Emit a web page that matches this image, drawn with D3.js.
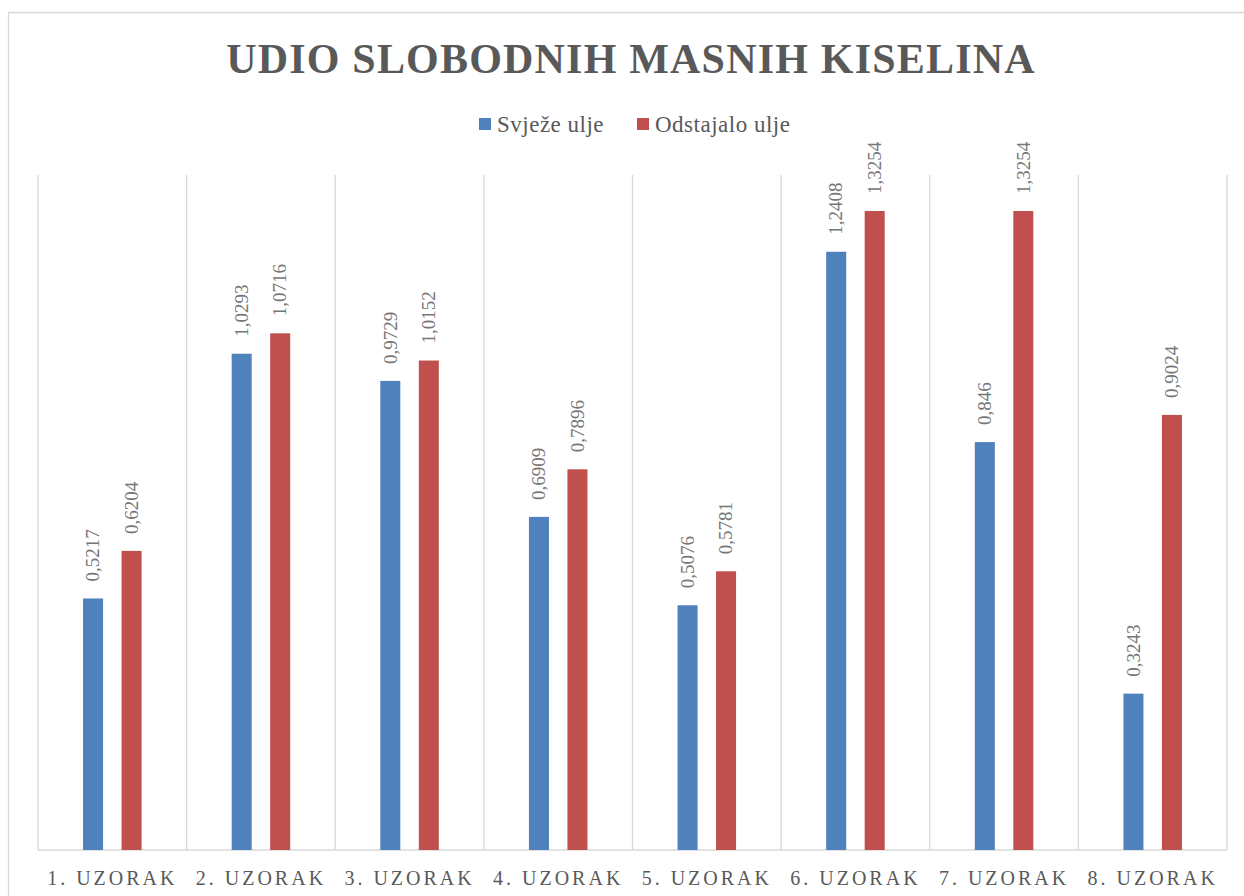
<!DOCTYPE html>
<meta charset="utf-8">
<head>
  <style>
  body{
    margin: 0;
    background: #fff;
  }
  svg text{
    font-family: "Liberation Serif", "DejaVu Serif", serif;
  }
  .grid line{
    stroke: #d9d9d9;
    stroke-width: 1.3px;
  }
  </style>
</head>
<body>
<div id="graph"></div>
<script src="https://d3js.org/d3.v7.min.js"></script>
<script>

var categories = ["1. UZORAK", "2. UZORAK", "3. UZORAK", "4. UZORAK", "5. UZORAK", "6. UZORAK", "7. UZORAK", "8. UZORAK"];
var seriesNames = ["Svježe ulje", "Odstajalo ulje"];
var svjeze = [0.5217, 1.0293, 0.9729, 0.6909, 0.5076, 1.2408, 0.846, 0.3243];
var odstajalo = [0.6204, 1.0716, 1.0152, 0.7896, 0.5781, 1.3254, 1.3254, 0.9024];
var labelsSvjeze = ["0,5217", "1,0293", "0,9729", "0,6909", "0,5076", "1,2408", "0,846", "0,3243"];
var labelsOdstajalo = ["0,6204", "1,0716", "1,0152", "0,7896", "0,5781", "1,3254", "1,3254", "0,9024"];
var colors = ["#4f81bd", "#c0504d"];

var W = 1244, H = 896;
var plot = {left: 38, right: 1227, top: 175, bottom: 850};

var svg = d3.select("#graph").append("svg")
  .attr("width", W)
  .attr("height", H);

// chart frame (only left and top edges visible in the picture)
svg.append("path")
  .attr("d", "M8.5," + H + "V12.5H" + W)
  .attr("fill", "none")
  .attr("stroke", "#d9d9d9")
  .attr("stroke-width", 1.3);

var x0 = d3.scaleBand()
  .domain(categories)
  .range([plot.left, plot.right]);

var x1 = d3.scaleBand()
  .domain(seriesNames)
  .range([0, x0.bandwidth()])
  .paddingInner(0.48)
  .paddingOuter(1.17);

var y = d3.scaleLinear()
  .domain([0, 1.4])
  .range([plot.bottom, plot.top]);

// vertical gridlines between categories
var grid = svg.append("g").attr("class", "grid");
var edges = categories.map(function(c){ return x0(c); }).concat([plot.right]);
grid.selectAll("line.v")
  .data(edges)
  .enter().append("line")
  .attr("class", "v")
  .attr("x1", function(d){ return d; })
  .attr("x2", function(d){ return d; })
  .attr("y1", y(1.4))
  .attr("y2", y(0));

grid.append("line")
  .attr("x1", plot.left)
  .attr("x2", plot.right)
  .attr("y1", y(0))
  .attr("y2", y(0));

var rows = categories.map(function(c, i){
  return [
    {cat: c, s: seriesNames[0], v: svjeze[i], label: labelsSvjeze[i], color: colors[0]},
    {cat: c, s: seriesNames[1], v: odstajalo[i], label: labelsOdstajalo[i], color: colors[1]}
  ];
});

var groups = svg.selectAll("g.cat")
  .data(rows)
  .enter().append("g")
  .attr("class", "cat")
  .attr("transform", function(d){ return "translate(" + x0(d[0].cat) + ",0)"; });

groups.selectAll("rect")
  .data(function(d){ return d; })
  .enter().append("rect")
  .attr("x", function(d){ return x1(d.s); })
  .attr("width", x1.bandwidth())
  .attr("y", function(d){ return y(d.v); })
  .attr("height", function(d){ return y(0) - y(d.v); })
  .attr("fill", function(d){ return d.color; });

groups.selectAll("text.val")
  .data(function(d){ return d; })
  .enter().append("text")
  .attr("class", "val")
  .attr("transform", function(d){
    return "translate(" + (x1(d.s) + x1.bandwidth() / 2) + "," + (y(d.v) - 17) + ") rotate(-90)";
  })
  .attr("dy", "0.33em")
  .attr("font-size", "19px")
  .attr("fill", "#767676")
  .text(function(d){ return d.label; });

// category labels
svg.append("g")
  .selectAll("text")
  .data(categories)
  .enter().append("text")
  .attr("x", function(d){ return x0(d) + x0.bandwidth() / 2; })
  .attr("y", 885)
  .attr("text-anchor", "middle")
  .attr("font-size", "20px")
  .attr("letter-spacing", "3px")
  .attr("fill", "#595959")
  .text(function(d){ return d; });

// title
svg.append("text")
  .attr("x", 631)
  .attr("y", 73)
  .attr("text-anchor", "middle")
  .attr("font-size", "42px")
  .attr("font-weight", "bold")
  .attr("letter-spacing", "1.2px")
  .attr("fill", "#595959")
  .text("UDIO SLOBODNIH MASNIH KISELINA");

// legend
var legend = svg.append("g");
var lx = [479, 637];
seriesNames.forEach(function(name, i){
  legend.append("rect")
    .attr("x", lx[i])
    .attr("y", 118)
    .attr("width", 12)
    .attr("height", 12)
    .attr("fill", colors[i]);
  legend.append("text")
    .attr("x", lx[i] + 18)
    .attr("y", 132)
    .attr("font-size", "23px")
    .attr("letter-spacing", "0.5px")
    .attr("fill", "#595959")
    .text(name);
});

</script>
</body>
</html>
